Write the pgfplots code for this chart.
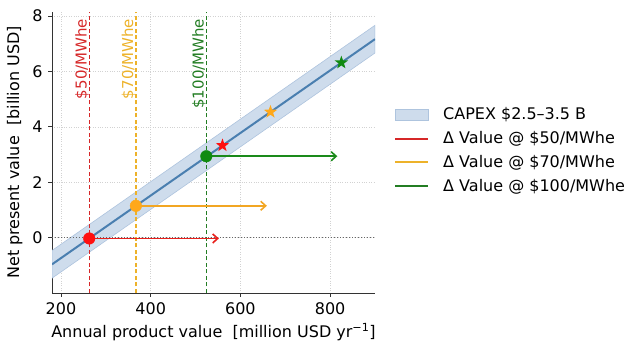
\documentclass[border=0pt]{standalone}
\usepackage{pgfplots}
\pgfplotsset{compat=1.18}
\usepackage{fontspec}
\setmainfont{DejaVu Sans}
\usetikzlibrary{arrows.meta}
\definecolor{bandfill}{HTML}{CEDCEC}
\definecolor{bandedge}{HTML}{AEC4DE}
\definecolor{steel}{HTML}{4A7FB0}
\definecolor{vred}{HTML}{D62728}
\definecolor{vora}{HTML}{EDB22A}
\definecolor{vgrn}{HTML}{237D23}
\definecolor{ared}{HTML}{E8201C}
\definecolor{aora}{HTML}{F2A623}
\definecolor{agrn}{HTML}{1A8A1A}
\definecolor{dred}{HTML}{FF1010}
\definecolor{dora}{HTML}{FFA81A}
\definecolor{dgrn}{HTML}{108A10}
\pgfdeclareplotmark{fstar}{%
  \pgfpathmoveto{\pgfpointpolar{90}{\pgfplotmarksize}}%
  \pgfpathlineto{\pgfpointpolar{126}{0.4\pgfplotmarksize}}%
  \pgfpathlineto{\pgfpointpolar{162}{\pgfplotmarksize}}%
  \pgfpathlineto{\pgfpointpolar{198}{0.4\pgfplotmarksize}}%
  \pgfpathlineto{\pgfpointpolar{234}{\pgfplotmarksize}}%
  \pgfpathlineto{\pgfpointpolar{270}{0.4\pgfplotmarksize}}%
  \pgfpathlineto{\pgfpointpolar{306}{\pgfplotmarksize}}%
  \pgfpathlineto{\pgfpointpolar{342}{0.4\pgfplotmarksize}}%
  \pgfpathlineto{\pgfpointpolar{18}{\pgfplotmarksize}}%
  \pgfpathlineto{\pgfpointpolar{54}{0.4\pgfplotmarksize}}%
  \pgfpathclose
  \pgfusepathqfill}
\pgfplotsset{
  legline/.style={legend image code/.code={\draw[##1] (0pt,0pt) -- (33pt,0pt); \path (45pt,0pt);}},
  legbox/.style={legend image code/.code={\draw[##1] (0pt,-5.5pt) rectangle (33pt,5.5pt); \path (45pt,0pt);}},
}
\begin{document}
\fontsize{16}{19}\selectfont
\begin{tikzpicture}
\path[use as bounding box] (-52pt,-59pt) rectangle (588pt,293pt);
\begin{axis}[
  at={(0pt,0pt)}, anchor=south west,
  scale only axis, width=323pt, height=281pt,
  xmin=180, xmax=900, ymin=-2, ymax=8.15,
  axis lines*=left,
  axis line style={black!80, line width=0.9pt},
  xtick={200,400,600,800}, ytick={0,2,4,6,8},
  tick align=outside, tick style={black!80, line width=0.9pt},
  major tick length=4pt,
  /pgf/number format/assume math mode=true,
  ticklabel style={font=\fontsize{16}{19}\selectfont},
  grid=major,
  major grid style={gray!35, dotted, line width=0.7pt},
  xlabel={Annual product value\ \ [million USD yr\textsuperscript{−1}]},
  ylabel={Net present value\ \ [billion USD]},
  label style={font=\fontsize{16}{19}\selectfont},
  xlabel style={yshift=2pt},
  ylabel style={yshift=-1pt},
  legend style={at={(1,0.507)}, anchor=west, xshift=18pt, draw=none, fill=none,
    font=\fontsize{16}{19}\selectfont, inner sep=1pt, row sep=5.3pt,
    cells={anchor=west}},
  legend cell align=left,
]
% band
\addplot[fill=bandfill, draw=bandedge, line width=0.6pt, forget plot]
  coordinates {(180,-0.466) (900,7.67) (900,6.67) (180,-1.466) (180,-0.466)};
% zero line
\addplot[gray!80!black, dotted, line width=1pt, forget plot]
  coordinates {(180,0) (900,0)};
% NPV line
\addplot[steel, line width=2pt, forget plot]
  coordinates {(180,-0.966) (900,7.17)};
% vertical dashed lines
\addplot[vred, dash pattern=on 4pt off 2.5pt, line width=1.4pt, forget plot] coordinates {(263,-2) (263,8.15)};
\addplot[vora, dash pattern=on 4pt off 2.5pt, line width=1.4pt, forget plot] coordinates {(367,-2) (367,8.15)};
\addplot[vgrn, dash pattern=on 4pt off 2.5pt, line width=1.4pt, forget plot] coordinates {(524,-2) (524,8.15)};
% arrows
\addplot[ared, line width=1.8pt, -{Straight Barb[length=5pt,width=9pt,line width=1.6pt]}, forget plot]
  coordinates {(263,-0.03) (552,-0.03)};
\addplot[aora, line width=1.8pt, -{Straight Barb[length=5pt,width=9pt,line width=1.6pt]}, forget plot]
  coordinates {(367,1.15) (659,1.15)};
\addplot[agrn, line width=1.8pt, -{Straight Barb[length=5pt,width=9pt,line width=1.6pt]}, forget plot]
  coordinates {(524,2.94) (816,2.94)};
% dots
\addplot[only marks, mark=*, mark size=5.8pt, mark options={fill=dred, draw=dred}, forget plot]
  coordinates {(263,-0.03)};
\addplot[only marks, mark=*, mark size=5.8pt, mark options={fill=dora, draw=dora}, forget plot]
  coordinates {(367,1.15)};
\addplot[only marks, mark=*, mark size=5.8pt, mark options={fill=dgrn, draw=dgrn}, forget plot]
  coordinates {(524,2.94)};
% stars
\addplot[only marks, mark=fstar, mark size=7pt, mark options={fill=dred, draw=dred}, forget plot]
  coordinates {(560,3.33)};
\addplot[only marks, mark=fstar, mark size=7pt, mark options={fill=dora, draw=dora}, forget plot]
  coordinates {(667,4.54)};
\addplot[only marks, mark=fstar, mark size=7pt, mark options={fill=dgrn, draw=dgrn}, forget plot]
  coordinates {(825,6.32)};
% labels
\node[vred, rotate=90, anchor=south east, inner sep=0.3pt, font=\fontsize{15}{17}\selectfont] at (axis cs:263,7.92) {\$50/MWhe};
\node[vora, rotate=90, anchor=south east, inner sep=0.3pt, font=\fontsize{15}{17}\selectfont] at (axis cs:367,7.92) {\$70/MWhe};
\node[vgrn, rotate=90, anchor=south east, inner sep=0.3pt, font=\fontsize{15}{17}\selectfont] at (axis cs:524,7.92) {\$100/MWhe};
% legend
\addlegendimage{legbox, fill=bandfill, draw=bandedge}
\addlegendentry{CAPEX \$2.5–3.5 B}
\addlegendimage{legline, vred, line width=2pt}
\addlegendentry{Δ Value @ \$50/MWhe}
\addlegendimage{legline, vora, line width=2pt}
\addlegendentry{Δ Value @ \$70/MWhe}
\addlegendimage{legline, vgrn, line width=2pt}
\addlegendentry{Δ Value @ \$100/MWhe}
\end{axis}
\end{tikzpicture}
\end{document}
